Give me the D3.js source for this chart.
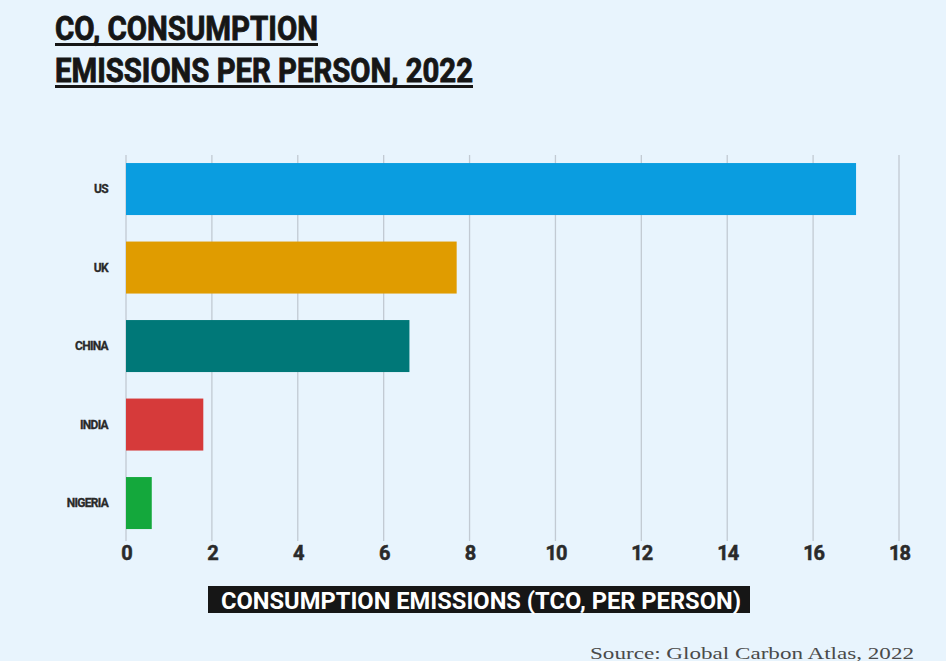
<!DOCTYPE html>
<html>
<head>
<meta charset="utf-8">
<script src="https://cdn.jsdelivr.net/npm/d3@7"></script>
<style>
  html, body { margin: 0; padding: 0; background: #e8f4fd; }
  svg { display: block; }
</style>
</head>
<body>
<script>
// Consumption-based CO2 emissions per person, 2022
const countries = ["US", "UK", "CHINA", "INDIA", "NIGERIA"];
const emissions = [17.0, 7.7, 6.6, 1.8, 0.6];
const barColors = ["#0a9de0", "#e09c00", "#007878", "#d63a3a", "#14a83c"];
const xTicks = [0, 2, 4, 6, 8, 10, 12, 14, 16, 18];
const titleLines = ["CO, CONSUMPTION", "EMISSIONS PER PERSON, 2022"];
const axisTitle = "CONSUMPTION EMISSIONS (TCO, PER PERSON)";
const sourceNote = "Source: Global Carbon Atlas, 2022";

const W = 946, H = 661;
const svg = d3.select("body").append("svg").attr("width", W).attr("height", H);
svg.append("rect").attr("width", W).attr("height", H).attr("fill", "#e8f4fd");

const condensed = "'Liberation Sans Narrow', 'Roboto', 'DejaVu Sans Condensed', sans-serif";

// Title with underline rules (a thin same-colour stroke gives a heavier face)
const titleG = svg.append("g");
const titleY = [40, 82];
const titleW = [263, 418];
titleLines.forEach((t, i) => {
  titleG.append("text")
    .attr("x", 55).attr("y", titleY[i])
    .attr("font-family", condensed)
    .attr("font-weight", 700)
    .attr("font-size", 34)
    .attr("fill", "#161616")
    .attr("stroke", "#161616")
    .attr("stroke-width", 0.9)
    .attr("textLength", titleW[i])
    .attr("lengthAdjust", "spacingAndGlyphs")
    .text(t);
  titleG.append("rect")
    .attr("x", 55).attr("y", titleY[i] + 3)
    .attr("width", titleW[i]).attr("height", 3)
    .attr("fill", "#161616");
});

// Scales
const x = d3.scaleLinear().domain([0, 18]).range([126, 899]);
const y = d3.scaleBand().domain(countries).range([149.7, 542.4])
  .paddingInner(0.3376).paddingOuter(0.17);

// Vertical gridlines
svg.append("g").selectAll("line").data(xTicks).join("line")
  .attr("x1", d => x(d)).attr("x2", d => x(d))
  .attr("y1", 155).attr("y2", 541)
  .attr("stroke", "#c2cad3").attr("stroke-width", 1.3);

// Bars
svg.append("g").selectAll("rect").data(countries).join("rect")
  .attr("x", x(0))
  .attr("y", d => y(d))
  .attr("width", (d, i) => x(emissions[i]) - x(0))
  .attr("height", y.bandwidth())
  .attr("fill", (d, i) => barColors[i]);

// Category labels
svg.append("g").selectAll("text").data(countries).join("text")
  .attr("x", 108)
  .attr("y", d => y(d) + y.bandwidth() / 2)
  .attr("dy", "0.35em")
  .attr("text-anchor", "end")
  .attr("font-family", condensed)
  .attr("font-weight", 700)
  .attr("font-size", 12)
  .attr("letter-spacing", -0.7)
  .attr("fill", "#2a2a2a")
  .attr("stroke", "#2a2a2a")
  .attr("stroke-width", 0.3)
  .text(d => d);

// X axis tick labels
const xAxis = d3.axisBottom(x).tickValues(xTicks).tickSize(0).tickPadding(0);
const axG = svg.append("g").attr("transform", "translate(0,546)").call(xAxis);
axG.select(".domain").remove();
axG.selectAll("text")
  .attr("font-family", condensed)
  .attr("font-weight", 700)
  .attr("font-size", 20)
  .attr("letter-spacing", -1)
  .attr("fill", "#2a2a2a")
  .attr("stroke", "#2a2a2a")
  .attr("stroke-width", 0.5);

// Axis title on a dark band
svg.append("rect")
  .attr("x", 208).attr("y", 586).attr("width", 542).attr("height", 27)
  .attr("fill", "#161616");
svg.append("text")
  .attr("x", 221).attr("y", 609)
  .attr("font-family", condensed)
  .attr("font-weight", 700)
  .attr("font-size", 24)
  .attr("fill", "#ffffff")
  .attr("textLength", 520)
  .attr("lengthAdjust", "spacingAndGlyphs")
  .text(axisTitle);

// Source note
svg.append("text")
  .attr("x", 914).attr("y", 659)
  .attr("text-anchor", "end")
  .attr("font-family", "'Liberation Serif', 'DejaVu Serif', serif")
  .attr("font-size", 16)
  .attr("fill", "#4a4a4a")
  .attr("textLength", 324)
  .attr("lengthAdjust", "spacingAndGlyphs")
  .text(sourceNote);
</script>
</body>
</html>
